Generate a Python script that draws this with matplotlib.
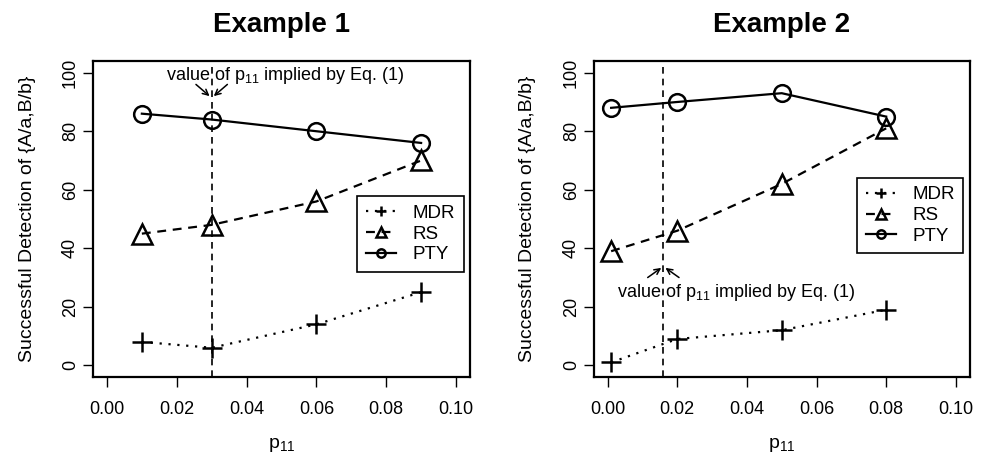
""" Detection rate vs p11, two examples """
import matplotlib
matplotlib.use('Agg')
import matplotlib.pyplot as plt

plt.rcParams['font.family'] = ['Liberation Sans', 'DejaVu Sans']
plt.rcParams['mathtext.fontset'] = 'custom'
plt.rcParams['mathtext.rm'] = 'Liberation Sans'
plt.rcParams['mathtext.it'] = 'Liberation Sans'
plt.rcParams['mathtext.default'] = 'regular'

# data
ex1_p11 = [0.01, 0.03, 0.06, 0.09]
ex1_mdr = [8, 6, 14, 25]
ex1_rs = [45, 48, 56, 70]
ex1_pty = [86, 84, 80, 76]
ex1_implied = 0.03

ex2_p11 = [0.001, 0.02, 0.05, 0.08]
ex2_mdr = [1, 9, 12, 19]
ex2_rs = [39, 46, 62, 81]
ex2_pty = [88, 90, 93, 85]
ex2_implied = 0.016

x_ticks = [0.0, 0.02, 0.04, 0.06, 0.08, 0.10]
y_ticks = [0, 20, 40, 60, 80, 100]
series_names = ['MDR', 'RS', 'PTY']

NOTE = r'value of p$_{11}$ implied by Eq. (1)'


def draw_panel(ax, title, p11, mdr, rs, pty, implied, note_above, leg_y):
    ax.plot(p11, mdr, color='black', linestyle=(0, (1, 3)), lw=1.6,
            marker='+', ms=15, mew=1.8, label=series_names[0])
    ax.plot(p11, rs, color='black', linestyle=(0, (4, 3)), lw=1.6,
            marker='^', ms=14, mew=1.8, mfc='none', label=series_names[1])
    ax.plot(p11, pty, color='black', linestyle='-', lw=1.6,
            marker='o', ms=12, mew=1.8, mfc='none', label=series_names[2])
    ax.axvline(implied, color='black', linestyle=(0, (4, 3)), lw=1.2)

    ax.set_xlim(-0.004, 0.104)
    ax.set_ylim(-4, 104)
    ax.set_xticks(x_ticks)
    ax.set_xticklabels(['%.2f' % t for t in x_ticks])
    ax.set_yticks(y_ticks)
    ax.set_yticklabels([str(t) for t in y_ticks], rotation=90, va='center')
    ax.tick_params(direction='out', length=7, width=1, labelsize=13)
    ax.tick_params(axis='x', pad=10)
    ax.tick_params(axis='y', pad=3)
    for s in ax.spines.values():
        s.set_linewidth(1.6)

    ax.set_title(title, fontsize=20, fontweight='bold', pad=21)
    ax.set_xlabel(r'p$_{11}$', fontsize=14, labelpad=13)
    ax.set_ylabel('Successful Detection of {A/a,B/b}', fontsize=14, labelpad=19)

    dx = 0.0045
    if note_above:
        ty, ay0, ay1 = 99, 96, 92
    else:
        ty, ay0, ay1 = 25, 30, 33.3
    ax.text(implied + 0.021, ty, NOTE, ha='center', va='center', fontsize=13)
    for side in (-1, 1):
        ax.annotate('', xy=(implied + side * 0.0006, ay1),
                    xytext=(implied + side * dx, ay0),
                    arrowprops=dict(arrowstyle='->', color='black', lw=1.1,
                                    shrinkA=0, shrinkB=0))

    leg = ax.legend(loc='center right', bbox_to_anchor=(0.983, leg_y),
                    borderaxespad=0,
                    fontsize=13.5, fancybox=False, edgecolor='black', framealpha=1,
                    handlelength=1.6, markerscale=0.5, borderpad=0.45,
                    labelspacing=0.2, handletextpad=0.9)
    leg.get_frame().set_linewidth(1.2)


fig = plt.figure(figsize=(9.83, 4.57), dpi=100)
ax1 = fig.add_axes([0.0946, 0.175, 0.3835, 0.6915])
ax2 = fig.add_axes([0.604, 0.175, 0.3825, 0.6915])

draw_panel(ax1, 'Example 1', ex1_p11, ex1_mdr, ex1_rs, ex1_pty, ex1_implied, True, 0.4525)
draw_panel(ax2, 'Example 2', ex2_p11, ex2_mdr, ex2_rs, ex2_pty, ex2_implied, False, 0.511)

fig.savefig('out.png', dpi=100)
